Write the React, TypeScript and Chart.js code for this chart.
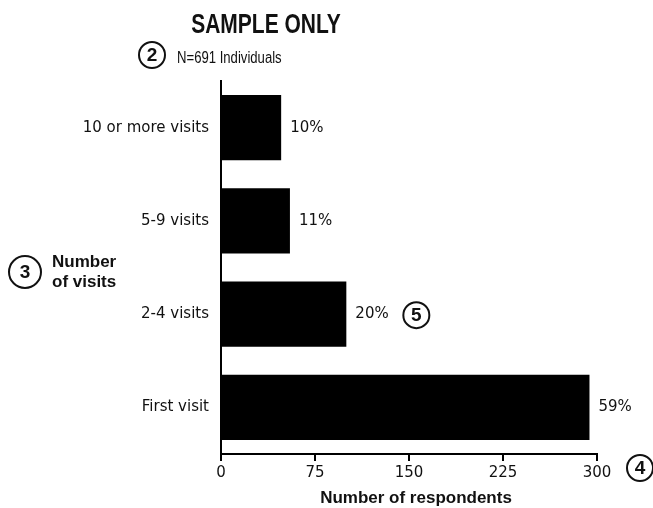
import React, { useEffect, useRef } from "react";
import { Chart, registerables } from "chart.js";

Chart.register(...registerables);

const categories = ["10 or more visits", "5-9 visits", "2-4 visits", "First visit"];
const respondents = [48, 55, 100, 294];
const percentLabels = ["10%", "11%", "20%", "59%"];
const xTicks = [0, 75, 150, 225, 300];
const titleText = "SAMPLE ONLY";
const subtitleText = "N=691 Individuals";
const yTitleLines = ["Number", "of visits"];
const xTitleText = "Number of respondents";

function circle(ctx: CanvasRenderingContext2D, x: number, y: number, r: number, label: string) {
  ctx.save();
  ctx.beginPath();
  ctx.arc(x, y, r, 0, Math.PI * 2);
  ctx.lineWidth = 2;
  ctx.strokeStyle = "#111";
  ctx.stroke();
  ctx.fillStyle = "#111";
  ctx.font = "bold 19px 'Liberation Sans', Arial, sans-serif";
  ctx.textAlign = "center";
  ctx.textBaseline = "middle";
  ctx.fillText(label, x, y + 1);
  ctx.restore();
}

const annotations = {
  id: "annotations",
  afterDraw(chart: any) {
    const ctx: CanvasRenderingContext2D = chart.ctx;
    ctx.save();
    ctx.fillStyle = "#111";
    // title
    ctx.save();
    ctx.translate(266, 33);
    ctx.scale(0.75, 1);
    ctx.font = "bold 28px 'Liberation Sans', Arial, sans-serif";
    ctx.textAlign = "center";
    ctx.textBaseline = "alphabetic";
    ctx.fillText(titleText, 0, 0);
    ctx.restore();
    // subtitle
    circle(ctx, 152, 55, 13, "2");
    ctx.save();
    ctx.translate(177, 63);
    ctx.scale(0.82, 1);
    ctx.font = "16px 'Liberation Sans', Arial, sans-serif";
    ctx.textAlign = "left";
    ctx.textBaseline = "alphabetic";
    ctx.fillText(subtitleText, 0, 0);
    ctx.restore();
    // y title
    circle(ctx, 25, 272, 16, "3");
    ctx.font = "bold 17px 'Liberation Sans', Arial, sans-serif";
    ctx.textAlign = "left";
    ctx.textBaseline = "alphabetic";
    ctx.fillText(yTitleLines[0], 52, 267);
    ctx.fillText(yTitleLines[1], 52, 287);
    // percent labels
    const meta = chart.getDatasetMeta(0);
    ctx.font = "15px 'DejaVu Sans', sans-serif";
    ctx.textBaseline = "middle";
    meta.data.forEach((bar: any, i: number) => {
      ctx.fillText(percentLabels[i], bar.x + 9, bar.y);
    });
    // circle 5 next to 2-4 visits label
    const b2 = meta.data[2];
    circle(ctx, b2.x + 70, b2.y + 1, 13, "5");
    // x title
    ctx.font = "bold 17px 'Liberation Sans', Arial, sans-serif";
    ctx.textAlign = "center";
    ctx.textBaseline = "alphabetic";
    ctx.fillText(xTitleText, 416, 503);
    // circle 4
    circle(ctx, 640, 468, 13, "4");
    ctx.restore();
  },
};

export default function App() {
  const ref = useRef<HTMLCanvasElement>(null);
  useEffect(() => {
    if (!ref.current) return;
    const chart = new Chart(ref.current, {
      type: "bar",
      data: {
        labels: categories,
        datasets: [
          {
            data: respondents,
            backgroundColor: "#000",
            borderWidth: 0,
            barPercentage: 0.7,
            categoryPercentage: 1,
          },
        ],
      },
      options: {
        indexAxis: "y",
        responsive: false,
        animation: false,
        layout: { padding: { top: 81, right: 56, left: 0, bottom: 0 } },
        plugins: {
          legend: { display: false },
          tooltip: { enabled: false },
          title: { display: false },
        },
        scales: {
          x: {
            min: 0,
            max: 300,
            afterFit: (s: any) => {
              s.height = 54;
            },
            afterBuildTicks: (s: any) => {
              s.ticks = xTicks.map((v) => ({ value: v }));
            },
            grid: {
              drawOnChartArea: false,
              drawTicks: true,
              tickLength: 7,
              color: "#000",
              lineWidth: 2,
            },
            border: { display: true, color: "#000", width: 2 },
            ticks: {
              color: "#111",
              padding: 3,
              font: { family: "'DejaVu Sans', sans-serif", size: 15 },
              maxRotation: 0,
            },
          },
          y: {
            afterFit: (s: any) => {
              s.width = 221;
            },
            grid: { display: false, drawTicks: false },
            border: { display: true, color: "#000", width: 2 },
            ticks: {
              color: "#111",
              padding: 12,
              font: { family: "'DejaVu Sans', sans-serif", size: 15 },
            },
          },
        },
      },
      plugins: [annotations],
    });
    return () => chart.destroy();
  }, []);
  return (
    <div style={{ position: "absolute", left: 0, top: 0, width: 653, height: 508, background: "#fff" }}>
      <canvas ref={ref} width={653} height={508} />
    </div>
  );
}
